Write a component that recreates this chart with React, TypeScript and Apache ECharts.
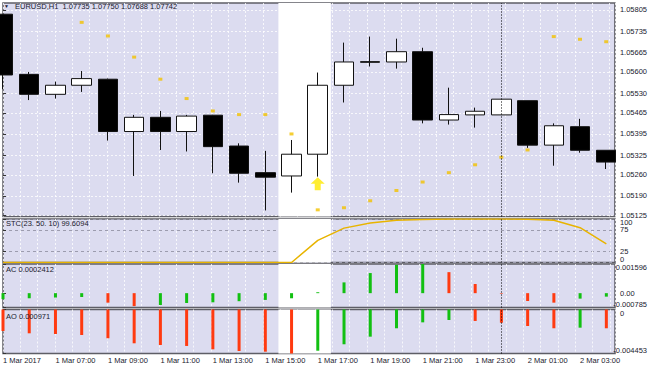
import React, { useEffect, useRef } from 'react';
import * as echarts from 'echarts';

// ---------- data ----------
const candleTimes = [
  '1 Mar 05:00', '1 Mar 06:00', '1 Mar 07:00', '1 Mar 08:00', '1 Mar 09:00', '1 Mar 10:00',
  '1 Mar 11:00', '1 Mar 12:00', '1 Mar 13:00', '1 Mar 14:00', '1 Mar 15:00', '1 Mar 16:00',
  '1 Mar 17:00', '1 Mar 18:00', '1 Mar 19:00', '1 Mar 20:00', '1 Mar 21:00', '1 Mar 22:00',
  '1 Mar 23:00', '2 Mar 00:00', '2 Mar 01:00', '2 Mar 02:00', '2 Mar 03:00', '2 Mar 04:00',
];
const opens = [1.05791, 1.05592, 1.05526, 1.05556, 1.05576, 1.05403, 1.05450, 1.05403, 1.05457, 1.05355, 1.05267, 1.05256,
  1.05328, 1.05556, 1.05634, 1.05633, 1.05667, 1.05441, 1.05458, 1.05458, 1.05505, 1.05358, 1.05419, 1.05341];
const closes = [1.05590, 1.05526, 1.05556, 1.05578, 1.05403, 1.05450, 1.05403, 1.05454, 1.05353, 1.05265, 1.05252, 1.05328,
  1.05556, 1.05633, 1.05632, 1.05667, 1.05441, 1.05459, 1.05470, 1.05510, 1.05358, 1.05422, 1.05341, 1.05302];
const lows = [1.05543, 1.05507, 1.05512, 1.05534, 1.05373, 1.05256, 1.05342, 1.05337, 1.05265, 1.05234, 1.05142, 1.05201,
  1.05254, 1.05499, 1.05618, 1.05611, 1.05430, 1.05426, 1.05416, 1.05458, 1.05349, 1.05290, 1.05333, 1.05279];
const highs = [1.05791, 1.05600, 1.05568, 1.05603, 1.05578, 1.05458, 1.05471, 1.05458, 1.05458, 1.05364, 1.05339, 1.05375,
  1.05598, 1.05697, 1.05717, 1.05710, 1.05680, 1.05548, 1.05482, 1.05510, 1.05505, 1.05430, 1.05445, 1.05341];
const sar: (number | null)[] = [null, null, null, 1.05764, 1.05719, 1.05649, 1.05576, 1.05512, 1.05471, 1.05459, 1.05459, 1.05395,
  1.05144, 1.05151, 1.05174, 1.05208, 1.05236, 1.05267, 1.05293, 1.05318, 1.05342, 1.05717, 1.05708, 1.05700];
const buySignalIndex = [12];
const buySignalPrice = [1.0523];
const stc = [0, 0, 0, 0, 0, 0, 0, 0, 0, 0, 0, 0, 51, 79, 91, 97, 99, 99.8, 99.9, 99.9, 99.6, 97, 80, 43];
const acPrev = -0.00038;
const ac = [-0.00033, -0.00028, -0.00024, -0.00021, -0.00052, -0.00071, -0.00065, -0.00054, -0.0005, -0.00044, -0.00037, -0.00028,
  0.00005, 0.00059, 0.0011, 0.00155, 0.001596, 0.00115, 0.0005, -0.00003, -0.00043, -0.00052, -0.0003, -0.00019];
const aoPrev = -0.0020;
const ao = [-0.00218, -0.00241, -0.00248, -0.00258, -0.00291, -0.00342, -0.00359, -0.00369, -0.00403, -0.0042, -0.00427, -0.004453,
  -0.00417, -0.00352, -0.00275, -0.0019, -0.0013, -0.00106, -0.00116, -0.00134, -0.00167, -0.0019, -0.00184, -0.0019];
const highlightedIndex = [11, 12];
const daySeparatorIndex = [19];

const timeTickIndex = [0, 2, 4, 6, 8, 10, 12, 14, 16, 18, 20, 22];
const timeTickLabels = ['1 Mar 2017', '1 Mar 07:00', '1 Mar 09:00', '1 Mar 11:00', '1 Mar 13:00', '1 Mar 15:00',
  '1 Mar 17:00', '1 Mar 19:00', '1 Mar 21:00', '1 Mar 23:00', '2 Mar 01:00', '2 Mar 03:00'];
const priceTicks = [1.05805, 1.05735, 1.05665, 1.056, 1.0553, 1.05465, 1.05395, 1.05325, 1.0526, 1.0519, 1.05125];
const stcTicks = [0, 25, 75, 100];
const acTicks = [-0.000785, 0, 0.001596];
const aoTicks = [-0.004453, 0];

const headerText = 'EURUSD,H1  1.07735 1.07750 1.07688 1.07742';
const stcTitle = 'STC(23. 50. 10) 99.6094';
const acTitle = 'AC 0.0002412';
const aoTitle = 'AO 0.000971';

// ---------- style ----------
const BG = '#dcdcf0';
const TXT = '#1a1a2e';
const FONT = 'Liberation Sans';
const UP = '#12c012';
const DOWN = '#ff3a10';

export default function App() {
  const ref = useRef<HTMLDivElement>(null);
  useEffect(() => {
    if (!ref.current) return;
    const chart = echarts.init(ref.current, undefined, { renderer: 'svg' });
    const idx = opens.map((_, i) => i);
    const xMax = 23.33;
    const panels = [
      { top: 3, height: 213.5 },
      { top: 219, height: 43.5 },
      { top: 264, height: 43.5 },
      { top: 309.5, height: 44 },
    ];
    const grid: any[] = panels.map((g) => ({
      left: 3, right: 35, top: g.top, height: g.height, show: true,
      backgroundColor: BG, borderColor: '#5e5e66', borderWidth: 1.5,
    }));
    const band = [[{ xAxis: highlightedIndex[0] - 0.5 }, { xAxis: highlightedIndex[highlightedIndex.length - 1] + 0.5 }]];
    const markArea = { silent: true, itemStyle: { color: '#ffffff' }, data: band };
    const markLine = {
      silent: true, symbol: ['none', 'none'], label: { show: false },
      lineStyle: { color: '#000', type: [1, 2], width: 1 },
      data: daySeparatorIndex.map((i) => ({ xAxis: i })),
    };
    const xLabel = (v: number) => {
      const k = timeTickIndex.indexOf(Math.round(v));
      return k >= 0 ? timeTickLabels[k] : '';
    };
    const xAxis: any[] = [];
    for (let g = 0; g < 4; g++) {
      xAxis.push({
        type: 'value', gridIndex: g, min: 0, max: xMax, show: g === 3,
        axisLine: { show: false },
        axisTick: { show: true, length: 3, customValues: timeTickIndex, lineStyle: { color: '#333' } },
        axisLabel: {
          show: true, customValues: timeTickIndex, formatter: xLabel, align: 'left', margin: 3,
          fontSize: 7.5, color: TXT, fontFamily: FONT, hideOverlap: false,
        },
        splitLine: { show: false },
      });
    }
    for (let g = 0; g < 4; g++) {
      xAxis.push({
        type: 'value', gridIndex: g, min: 0, max: 35.3, interval: 1,
        axisLine: { show: false }, axisTick: { show: false }, axisLabel: { show: false },
        splitLine: { show: true, lineStyle: { color: 'rgba(255,255,255,0.8)', type: [2, 2], width: 1 } },
      });
    }
    const labelBase = { margin: 5, fontSize: 7.5, lineHeight: 7, color: TXT, fontFamily: FONT, hideOverlap: false };
    // axis carrying ticks, split lines and the inner labels
    const mkY = (g: number, min: number, max: number, ticks: number[], labels: number[],
      fmt: (v: number) => string, split: any) => ({
      type: 'value', gridIndex: g, position: 'right', min, max,
      axisLine: { show: false },
      axisTick: { show: true, length: 3, customValues: ticks, lineStyle: { color: '#333' } },
      axisLabel: { ...labelBase, show: labels.length > 0, customValues: labels.length ? labels : ticks, formatter: fmt },
      splitLine: split,
    });
    const yAxis: any[] = [];
    const whiteSplit = { show: true, lineStyle: { color: 'rgba(255,255,255,0.8)', type: [2, 2], width: 1 } };
    const fmtPrice = (v: number) => v.toFixed(5);
    const fmtPlain = (v: number) => String(v);
    const fmtAc = (v: number) => (v === 0 ? '0.00' : String(v));
    const inner = (t: number[]) => t.filter((v) => v !== Math.min(...t) && v !== Math.max(...t));
    yAxis.push(
      mkY(0, 1.05122, 1.05828, priceTicks, priceTicks, fmtPrice, whiteSplit),
      mkY(1, 0, 100, stcTicks, inner(stcTicks), fmtPlain, { show: true, lineStyle: { color: '#9c9cae', type: [3, 3], width: 1 } }),
      mkY(2, -0.000785, 0.001596, acTicks, inner(acTicks), fmtAc, { show: false }),
      mkY(3, -0.004453, 0, aoTicks, [], fmtPlain, { show: false }),
    );
    // edge labels: each on its own invisible grid laid over the panel, aligned inward
    const addEdge = (p: number, min: number, max: number, value: number, fmt: (v: number) => string, va: string) => {
      const gi = grid.length;
      grid.push({ left: 3, right: 35, top: panels[p].top, height: panels[p].height, show: false });
      xAxis.push({ type: 'value', gridIndex: gi, min: 0, max: 1, show: false });
      yAxis.push({
        type: 'value', gridIndex: gi, position: 'right', min, max,
        axisLine: { show: false }, axisTick: { show: false }, splitLine: { show: false },
        axisLabel: { ...labelBase, customValues: [value], formatter: fmt, verticalAlign: va },
      });
    };
    addEdge(1, 0, 100, Math.max(...stcTicks), fmtPlain, 'top');
    addEdge(1, 0, 100, Math.min(...stcTicks), fmtPlain, 'bottom');
    addEdge(2, -0.000785, 0.001596, Math.max(...acTicks), fmtAc, 'top');
    addEdge(2, -0.000785, 0.001596, Math.min(...acTicks), fmtAc, 'bottom');
    addEdge(3, -0.004453, 0, Math.max(...aoTicks), fmtPlain, 'top');
    addEdge(3, -0.004453, 0, Math.min(...aoTicks), fmtPlain, 'bottom');

    const colorize = (arr: number[], prev: number) =>
      arr.map((v, i) => ({ value: [i, v], itemStyle: { color: v > (i === 0 ? prev : arr[i - 1]) ? UP : DOWN } }));

    const titleStyle = { fontSize: 7.5, fontWeight: 'normal', color: TXT, fontFamily: FONT };
    const option: any = {
      animation: false,
      textStyle: { fontFamily: FONT },
      title: [
        { text: '▼', left: 4, top: 3, padding: 0, textStyle: { ...titleStyle, fontSize: 5 } },
        { text: headerText, left: 15, top: 2, padding: 0, textStyle: titleStyle },
        { text: stcTitle, left: 6, top: 219.5, padding: 0, textStyle: titleStyle },
        { text: acTitle, left: 6, top: 265, padding: 0, textStyle: titleStyle },
        { text: aoTitle, left: 6, top: 312, padding: 0, textStyle: titleStyle },
      ],
      grid,
      xAxis,
      yAxis,
      series: [
        {
          type: 'candlestick', xAxisIndex: 0, yAxisIndex: 0,
          dimensions: ['t', 'open', 'close', 'lowest', 'highest'],
          encode: { x: 't', y: ['open', 'close', 'lowest', 'highest'] },
          data: idx.map((i) => [i, opens[i], closes[i], lows[i], highs[i]]),
          barWidth: 20,
          itemStyle: { color: '#ffffff', color0: '#000000', borderColor: '#111', borderColor0: '#111', borderWidth: 1 },
          markArea, markLine,
        },
        {
          type: 'scatter', xAxisIndex: 0, yAxisIndex: 0, symbol: 'rect', symbolSize: [4, 3],
          itemStyle: { color: '#f3c200' },
          data: idx.filter((i) => sar[i] != null).map((i) => [i, sar[i]]),
        },
        {
          type: 'scatter', xAxisIndex: 0, yAxisIndex: 0,
          symbol: 'path://M7,0 L14,7 L10,7 L10,14 L4,14 L4,7 L0,7 Z', symbolSize: [14, 13],
          itemStyle: { color: '#ffe800' },
          data: buySignalIndex.map((i, k) => [i, buySignalPrice[k]]),
        },
        {
          type: 'line', xAxisIndex: 1, yAxisIndex: 1, showSymbol: false, symbol: 'none',
          lineStyle: { color: '#e8b400', width: 1.5 },
          data: idx.map((i) => [i, stc[i]]),
          markArea, markLine,
        },
        {
          type: 'bar', xAxisIndex: 2, yAxisIndex: 2, barWidth: 3,
          data: colorize(ac, acPrev), markArea, markLine,
        },
        {
          type: 'bar', xAxisIndex: 3, yAxisIndex: 3, barWidth: 3,
          data: colorize(ao, aoPrev), markArea, markLine,
        },
      ],
    };
    chart.setOption(option);
    return () => chart.dispose();
  }, []);
  return <div ref={ref} style={{ position: 'absolute', left: 0, top: 0, width: 650, height: 366, background: '#fff' }} />;
}
